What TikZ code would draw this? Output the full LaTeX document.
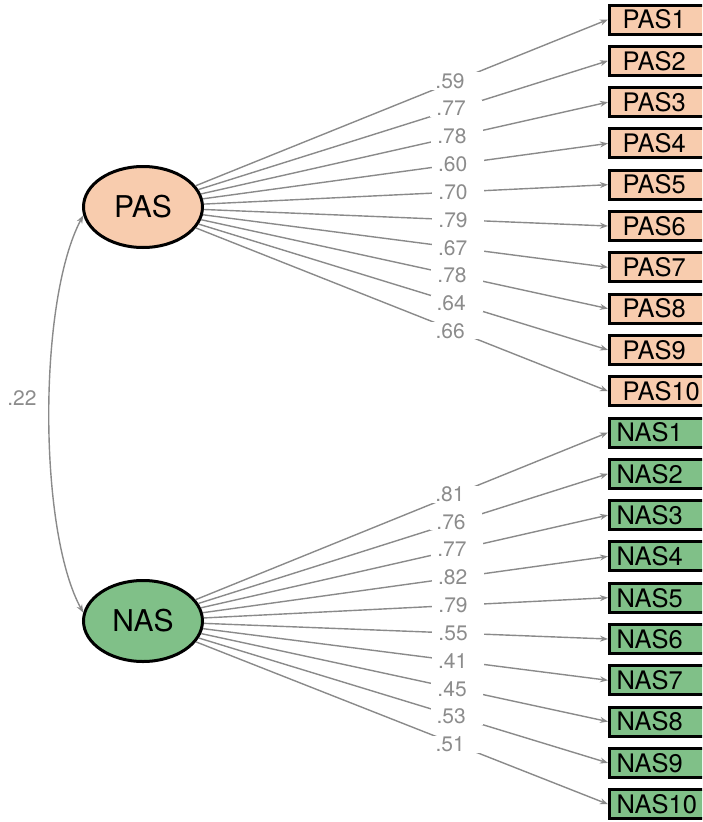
\documentclass[tikz,border=0pt]{standalone}
\usepackage{fontspec}
\setmainfont{TeX Gyre Heros}
\usetikzlibrary{shapes.geometric,arrows.meta}
\definecolor{pasfill}{HTML}{F8CCAE}
\definecolor{nasfill}{HTML}{80C088}
\definecolor{edgegray}{HTML}{8A8A8A}
\definecolor{labgray}{HTML}{8C8C8C}
\begin{document}
\begin{tikzpicture}[x=1pt,y=-1pt,
  latent/.style={ellipse,draw=black,line width=3pt,minimum width=119pt,minimum height=81pt,inner sep=0pt,font=\fontsize{30}{34}\selectfont},
  ind/.style={rectangle,draw=black,line width=3pt,minimum width=100pt,minimum height=29pt,inner sep=0pt,anchor=west,text width=100pt,align=left,font=\fontsize{25.5}{27}\selectfont},
  edge/.style={draw=edgegray,line width=1.4pt,-{Stealth[length=8pt,width=6pt]}},
  cov/.style={draw=edgegray,line width=1.4pt,{Stealth[length=8pt,width=6pt]}-{Stealth[length=8pt,width=6pt]}},
  lab/.style={fill=white,text=labgray,font=\fontsize{21}{23}\selectfont,text width=40pt,align=left,inner xsep=6pt,inner ysep=1pt,pos=0.63}]
\useasboundingbox (0,0) rectangle (702,822);
\clip (0,0) rectangle (702,822);

\node[latent,fill=pasfill] (PAS) at (143,207) {PAS};
\node[latent,fill=nasfill] (NAS) at (143,621) {NAS};

\foreach \i in {1,...,10}{
  \node[ind,fill=pasfill] (p\i) at (608,{19.5+41.3*(\i-1)}) {\hspace*{13pt}PAS\i};
  \node[ind,fill=nasfill] (n\i) at (608,{19.5+41.3*(\i+9)}) {\hspace*{7pt}NAS\i};
}

\foreach \i/\l in {1/.59,2/.77,3/.78,4/.60,5/.70,6/.79,7/.67,8/.78,9/.64,10/.66}{
  \draw[edge] (PAS) -- node[lab]{\l} (p\i.west);
}
\foreach \i/\l in {1/.81,2/.76,3/.77,4/.82,5/.79,6/.55,7/.41,8/.45,9/.53,10/.51}{
  \draw[edge] (NAS) -- node[lab]{\l} (n\i.west);
}

\draw[cov] (PAS.188) .. controls (38,300) and (38,530) .. (NAS.172);
\node[text=labgray,font=\fontsize{21}{23}\selectfont] (c) at (22,398) {.22};
\end{tikzpicture}
\end{document}
